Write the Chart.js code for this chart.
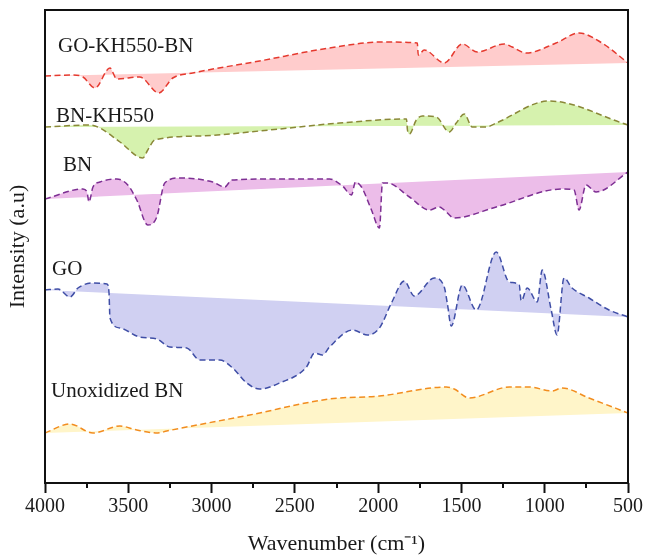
<!DOCTYPE html>
<html>
<head>
<meta charset="utf-8">
<script src="https://cdn.jsdelivr.net/npm/chart.js@4.4.1/dist/chart.umd.min.js"></script>
<style>
  html, body { margin: 0; padding: 0; background: #fff; }
  #wrap { width: 645px; height: 559px; }
</style>
</head>
<body>
<div id="wrap"><canvas id="ftir" width="645" height="559"></canvas></div>
<script>
// wavenumber (cm-1) / intensity (a.u., stacked offsets)
var goKhBnX = [4000, 3832, 3772, 3700, 3610, 3569, 3431, 3317, 3233, 3113, 2712, 2292, 1974, 1765, 1759, 1723, 1603, 1495, 1405, 1243, 1195, 1111, 932, 794, 656, 500];
var goKhBnY = [407, 408, 406, 395, 415, 404, 406, 390, 405, 410, 422, 435, 441, 440, 428, 433, 420, 439, 431, 439, 436, 430, 440, 450, 440, 420];

var bnKhX = [4000, 3730, 3670, 3550, 3413, 3383, 3341, 3071, 2652, 2232, 1830, 1824, 1812, 1771, 1735, 1651, 1573, 1531, 1483, 1435, 1351, 1291, 974, 500];
var bnKhY = [356, 358, 355, 341, 325, 333, 343, 347, 353, 360, 364, 353, 349, 363, 367, 366, 351, 360, 369, 356, 356, 360, 382, 358];

var bnX = [4000, 3772, 3748, 3736, 3712, 3670, 3569, 3503, 3449, 3383, 3329, 3281, 3191, 2993, 2921, 2879, 2634, 2292, 2214, 2160, 2136, 2100, 2040, 1992, 1974, 1944, 1812, 1693, 1633, 1603, 1543, 1291, 896, 824, 794, 752, 692, 500];
var bnY = [284, 294, 291, 281, 296, 301, 304, 298, 283, 258, 266, 300, 305, 301, 296, 303, 304, 304, 297, 288, 301, 296, 273, 255, 300, 300, 286, 273, 276, 273, 265, 276, 294, 293, 273, 298, 291, 311];

var goX = [4000, 3922, 3850, 3802, 3712, 3628, 3616, 3610, 3550, 3431, 3329, 3251, 3149, 3071, 2951, 2873, 2789, 2712, 2592, 2430, 2382, 2334, 2292, 2154, 2064, 1992, 1920, 1843, 1783, 1663, 1603, 1585, 1561, 1495, 1411, 1291, 1213, 1153, 1141, 1105, 1045, 1015, 961, 926, 884, 836, 734, 614, 500];
var goY = [193, 194, 186, 195, 200, 199, 191, 165, 155, 146, 144, 136, 135, 123, 123, 115, 100, 94, 100, 116, 130, 128, 136, 153, 148, 155, 180, 202, 187, 205, 196, 180, 157, 198, 173, 231, 201, 198, 182, 195, 181, 213, 173, 148, 205, 195, 185, 173, 166];

var unoxX = [4000, 3850, 3712, 3550, 3449, 3323, 3269, 2771, 2292, 1992, 1591, 1543, 1453, 1213, 1093, 956, 896, 734, 500];
var unoxY = [50, 59, 50, 57, 53, 50, 52, 68, 84, 87, 96, 94, 85, 96, 96, 92, 95, 85, 70];

var seriesNames = ['GO-KH550-BN', 'BN-KH550', 'BN', 'GO', 'Unoxidized BN'];
var xTicks = [4000, 3500, 3000, 2500, 2000, 1500, 1000, 500];
var minorTicks = [3750, 3250, 2750, 2250, 1750, 1250, 750];

var lineColors = ['#e53a2f', '#8a8838', '#7d2f93', '#3f4ea6', '#f28d1f'];
var fillColors = ['#ffcccc', '#d6f2ae', '#ecbde9', '#d0d0f2', '#fff5c9'];
// label anchors (wavenumber, intensity)
var labelPos = [[3922, 431], [3934, 361], [3892, 312], [3958, 208], [3964, 86]];

function pts(xs, ys) {
  return xs.map(function (x, i) { return { x: x, y: ys[i] }; });
}

var curves = [pts(goKhBnX, goKhBnY), pts(bnKhX, bnKhY), pts(bnX, bnY), pts(goX, goY), pts(unoxX, unoxY)];

var datasets = [];
curves.forEach(function (c, i) {
  datasets.push({
    label: seriesNames[i],
    data: c,
    borderColor: lineColors[i],
    backgroundColor: fillColors[i],
    borderWidth: 1.5,
    borderDash: [6, 3.5],
    pointRadius: 0,
    cubicInterpolationMode: 'monotone',
    fill: 2 * i + 1
  });
  // straight baseline from first to last point, the curve fills against it
  datasets.push({
    label: seriesNames[i] + ' base',
    data: [c[0], c[c.length - 1]],
    borderWidth: 0,
    borderColor: 'rgba(0,0,0,0)',
    pointRadius: 0,
    fill: false
  });
});

var boxPlugin = {
  id: 'box',
  afterDraw: function (chart) {
    var ctx = chart.ctx, a = chart.chartArea, xs = chart.scales.x, ys = chart.scales.y;
    ctx.save();
    ctx.strokeStyle = '#111';
    ctx.lineWidth = 2;
    ctx.strokeRect(a.left, a.top, a.right - a.left, a.bottom - a.top);
    ctx.beginPath();
    minorTicks.forEach(function (w) {
      var px = Math.round(xs.getPixelForValue(w));
      ctx.moveTo(px, a.bottom);
      ctx.lineTo(px, a.bottom + 5);
    });
    ctx.stroke();
    ctx.fillStyle = '#1a1a1a';
    ctx.font = '21px "Liberation Serif", serif';
    ctx.textBaseline = 'alphabetic';
    seriesNames.forEach(function (n, i) {
      ctx.fillText(n, xs.getPixelForValue(labelPos[i][0]), ys.getPixelForValue(labelPos[i][1]));
    });
    ctx.restore();
  }
};

Chart.defaults.font.family = '"Liberation Serif", serif';
Chart.defaults.color = '#1a1a1a';

new Chart(document.getElementById('ftir'), {
  type: 'line',
  data: { datasets: datasets },
  options: {
    responsive: false,
    animation: false,
    layout: { padding: { top: 10, right: 16, left: 0, bottom: 0 } },
    plugins: { legend: { display: false }, tooltip: { enabled: false } },
    scales: {
      x: {
        type: 'linear',
        reverse: true,
        min: 500,
        max: 4000,
        afterBuildTicks: function (s) { s.ticks = xTicks.map(function (v) { return { value: v }; }); },
        afterFit: function (s) { s.height = 76; },
        ticks: {
          font: { size: 20 }, color: '#1a1a1a', padding: 2, maxRotation: 0, autoSkip: false,
          callback: function (v) { return String(v); }
        },
        grid: { drawOnChartArea: false, drawTicks: true, tickLength: 10, tickWidth: 2, tickColor: '#111' },
        border: { display: false },
        title: { display: true, text: 'Wavenumber (cm⁻¹)', font: { size: 22 }, padding: { top: 0, bottom: 2 } }
      },
      y: {
        min: 0,
        max: 473,
        afterFit: function (s) { s.width = 45; },
        ticks: { display: false },
        grid: { display: false },
        border: { display: false },
        title: { display: true, text: 'Intensity (a.u)', font: { size: 22 }, padding: { top: 5, bottom: 0 } }
      }
    }
  },
  plugins: [boxPlugin]
});
</script>
</body>
</html>
